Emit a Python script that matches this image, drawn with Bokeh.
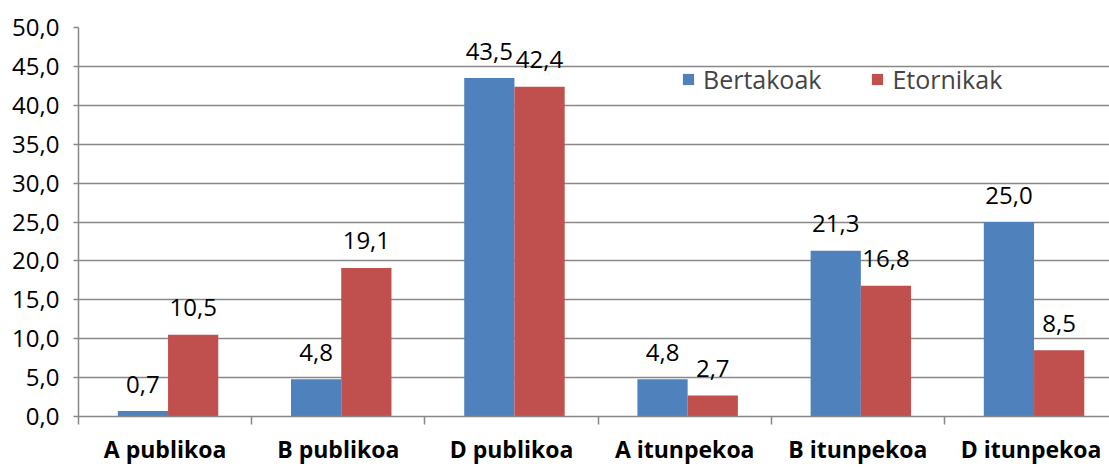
import numpy as np
from bokeh.plotting import figure
from bokeh.models import ColumnDataSource, FixedTicker, Range1d, Legend, LegendItem
from bokeh.transform import dodge
from bokeh.core.properties import value
from bokeh.embed import file_html
from bokeh.resources import INLINE

categories = ["A publikoa", "B publikoa", "D publikoa", "A itunpekoa", "B itunpekoa", "D itunpekoa"]
bertakoak = [0.7, 4.8, 43.5, 4.8, 21.3, 25.0]
etornikak = [10.5, 19.1, 42.4, 2.7, 16.8, 8.5]
y_ticks = [0, 5, 10, 15, 20, 25, 30, 35, 40, 45, 50]
y_tick_labels = ["0,0", "5,0", "10,0", "15,0", "20,0", "25,0", "30,0", "35,0", "40,0", "45,0", "50,0"]

BLUE = "#4F81BD"
RED = "#C0504D"
GRID = "#888888"
FONT = "Open Sans"

def fmt(v):
    return f"{v:.1f}".replace(".", ",")

pos = np.arange(len(categories)) + 0.5
src = ColumnDataSource(dict(
    x=pos,
    b=bertakoak,
    e=etornikak,
    bl=[fmt(v) for v in bertakoak],
    el=[fmt(v) for v in etornikak],
))

W = 1109
p = figure(width=W, height=467, output_backend="svg", toolbar_location=None,
           x_range=Range1d(0, (W - 78) / 173.2), y_range=Range1d(0, 50))
p.min_border_left = 78
p.min_border_right = 0
p.min_border_top = 27
p.min_border_bottom = 50
p.outline_line_color = None
p.background_fill_color = "white"

OFF_B = -0.128
OFF_E = 0.162
rb = p.vbar(x=dodge("x", OFF_B, range=p.x_range), top="b", width=0.29, source=src,
            fill_color=BLUE, line_color=None)
re_ = p.vbar(x=dodge("x", OFF_E, range=p.x_range), top="e", width=0.29, source=src,
             fill_color=RED, line_color=None)

p.text(x=dodge("x", OFF_B, range=p.x_range), y="b", text="bl", source=src,
       text_font=value(FONT), text_font_size="24px", text_align="center",
       text_baseline="alphabetic", y_offset=-27, text_color="black")
p.text(x=dodge("x", OFF_E, range=p.x_range), y="e", text="el", source=src,
       text_font=value(FONT), text_font_size="24px", text_align="center",
       text_baseline="alphabetic", y_offset=-27, text_color="black")

# axes
p.xgrid.visible = False
p.ygrid.grid_line_color = GRID
p.ygrid.grid_line_width = 1.5
p.yaxis.ticker = FixedTicker(ticks=y_ticks)
p.yaxis.major_label_overrides = {t: l for t, l in zip(y_ticks, y_tick_labels)}
p.yaxis.major_label_text_font = FONT
p.yaxis.major_label_text_font_size = "24px"
p.yaxis.major_label_text_color = "black"
p.yaxis.major_label_standoff = 14
p.yaxis.axis_line_color = GRID
p.yaxis.axis_line_width = 1.5
p.yaxis.major_tick_line_color = GRID
p.yaxis.major_tick_line_width = 1.5
p.yaxis.major_tick_out = 5
p.yaxis.major_tick_in = 0
p.yaxis.minor_tick_line_color = None

p.xaxis.ticker = FixedTicker(ticks=list(pos), minor_ticks=list(range(len(categories) + 1)))
p.xaxis.major_label_overrides = {float(x): c for x, c in zip(pos, categories)}
p.xaxis.major_label_text_font = FONT
p.xaxis.major_label_text_font_size = "23px"
p.xaxis.major_label_text_font_style = "bold"
p.xaxis.major_label_text_color = "black"
p.xaxis.major_label_standoff = 8
p.xaxis.major_tick_line_color = None
p.xaxis.major_tick_out = 8
p.xaxis.minor_tick_line_color = GRID
p.xaxis.minor_tick_line_width = 1.5
p.xaxis.minor_tick_out = 8
p.xaxis.minor_tick_in = 0
p.xaxis.axis_line_color = GRID
p.xaxis.axis_line_width = 1.5

legend = Legend(items=[LegendItem(label="Bertakoak", renderers=[rb]),
                       LegendItem(label="Etornikak", renderers=[re_])],
                orientation="horizontal", location=(603, 320))
legend.label_text_font = FONT
legend.label_text_font_size = "25px"
legend.glyph_width = 14
legend.glyph_height = 14
legend.label_standoff = 8
legend.spacing = 49
legend.padding = 0
legend.margin = 0
legend.border_line_color = None
legend.background_fill_alpha = 0
p.add_layout(legend, "center")

open("out.html", "w").write(file_html(p, INLINE))
